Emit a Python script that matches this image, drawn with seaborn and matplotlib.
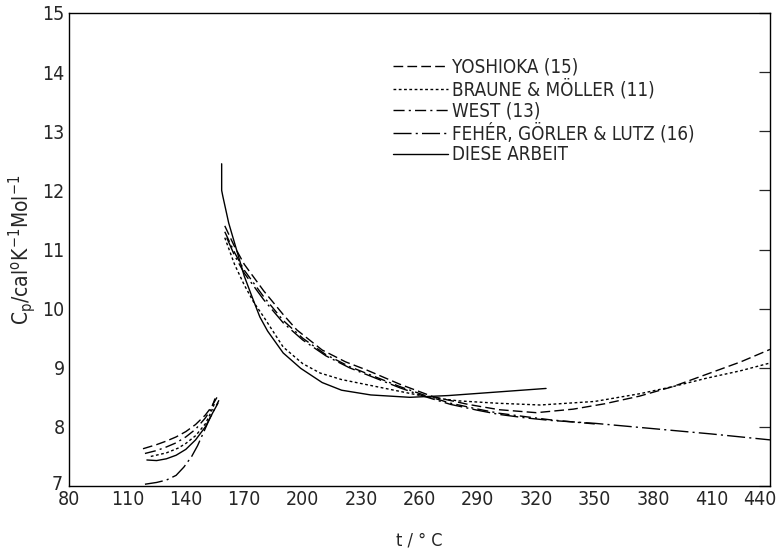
import pandas as pd
import matplotlib.pyplot as plt
import seaborn as sns
from matplotlib.transforms import ScaledTranslation

# Werte (t in °C, Cp in cal/(K Mol))
quellen = ['YOSHIOKA (15)', 'BRAUNE & MÖLLER (11)', 'WEST (13)',
           'FEHÉR, GÖRLER & LUTZ (16)', 'DIESE ARBEIT']

# Zweig unterhalb des Umwandlungspunktes
yosh_t_lo = [118, 125, 130, 135, 140, 145, 150, 153, 156]
yosh_cp_lo = [7.63, 7.70, 7.76, 7.83, 7.92, 8.04, 8.20, 8.33, 8.50]
braune_t_lo = [122, 130, 136, 140, 145, 150, 153, 155]
braune_cp_lo = [7.50, 7.56, 7.64, 7.72, 7.85, 8.05, 8.25, 8.42]
west_t_lo = [119, 125, 130, 135, 140, 145, 150, 153, 155]
west_cp_lo = [7.55, 7.60, 7.66, 7.73, 7.83, 7.96, 8.15, 8.30, 8.48]
feher_t_lo = [119, 125, 130, 135, 139, 143, 146, 149, 152, 155, 157]
feher_cp_lo = [7.03, 7.06, 7.10, 7.18, 7.32, 7.50, 7.68, 7.90, 8.12, 8.32, 8.45]
diese_t_lo = [120, 125, 130, 135, 140, 145, 150, 154, 156.5]
diese_cp_lo = [7.44, 7.43, 7.46, 7.52, 7.62, 7.78, 8.00, 8.25, 8.40]

# Zweig oberhalb des Umwandlungspunktes
yosh_t_hi = [160, 165, 170, 180, 190, 197, 210, 222, 233, 250, 267, 285, 301,
             320, 339, 355, 373, 390, 410, 425, 440]
yosh_cp_hi = [11.4, 11.05, 10.75, 10.3, 9.9, 9.64, 9.3, 9.1, 8.96, 8.72, 8.51,
              8.38, 8.29, 8.24, 8.30, 8.39, 8.52, 8.68, 8.92, 9.1, 9.31]
braune_t_hi = [160, 165, 170, 175, 180, 190, 200, 209, 220, 235, 250, 265, 280,
               300, 322, 350, 373, 390, 407, 425, 440]
braune_cp_hi = [11.2, 10.75, 10.4, 10.1, 9.86, 9.35, 9.07, 8.91, 8.8, 8.7, 8.6,
                8.5, 8.44, 8.4, 8.37, 8.43, 8.56, 8.68, 8.82, 8.95, 9.08]
west_t_hi = [160, 165, 170, 180, 190, 200, 212, 224, 237, 250, 263, 276, 290,
             301, 315, 327, 340, 350]
west_cp_hi = [11.3, 10.95, 10.65, 10.2, 9.8, 9.5, 9.22, 9.02, 8.85, 8.68, 8.53,
              8.40, 8.30, 8.23, 8.17, 8.12, 8.08, 8.05]
feher_t_hi = [161, 165, 170, 180, 190, 200, 212, 224, 237, 250, 263, 276, 290,
              301, 315, 327, 350, 380, 410, 440]
feher_cp_hi = [11.2, 10.9, 10.6, 10.15, 9.76, 9.47, 9.2, 9.0, 8.83, 8.66, 8.51,
               8.38, 8.28, 8.21, 8.15, 8.11, 8.06, 7.97, 7.88, 7.78]
diese_t_hi = [158.4, 158.4, 159, 162, 166, 170, 174, 178, 182, 190, 199, 210,
              220, 235, 255, 275, 300, 325]
diese_cp_hi = [12.45, 12.0, 11.9, 11.45, 11.0, 10.55, 10.2, 9.86, 9.62, 9.25,
               8.99, 8.75, 8.62, 8.54, 8.5, 8.53, 8.59, 8.65]

x_ticks = [80, 110, 140, 170, 200, 230, 260, 290, 320, 350, 380, 410, 440]
y_ticks = [7, 8, 9, 10, 11, 12, 13, 14, 15]

zweige = {
    quellen[0]: [(yosh_t_lo, yosh_cp_lo), (yosh_t_hi, yosh_cp_hi)],
    quellen[1]: [(braune_t_lo, braune_cp_lo), (braune_t_hi, braune_cp_hi)],
    quellen[2]: [(west_t_lo, west_cp_lo), (west_t_hi, west_cp_hi)],
    quellen[3]: [(feher_t_lo, feher_cp_lo), (feher_t_hi, feher_cp_hi)],
    quellen[4]: [(diese_t_lo, diese_cp_lo), (diese_t_hi, diese_cp_hi)],
}

rows = []
for q, segs in zweige.items():
    for i, (t, cp) in enumerate(segs):
        for k, (a, b) in enumerate(zip(t, cp)):
            rows.append({'t': a, 'cp': b, 'quelle': q, 'zweig': i, 'n': k})
df = pd.DataFrame(rows)

linien = {
    quellen[0]: (0, (7, 3)),
    quellen[1]: (0, (2, 1.8)),
    quellen[2]: (0, (8, 3, 1.5, 3)),
    quellen[3]: (0, (13, 3, 1.5, 3)),
    quellen[4]: '-',
}

sns.set_style('white')
plt.rcParams['font.family'] = ['DejaVu Sans']
plt.rcParams['font.stretch'] = 'condensed'

fig = plt.figure(figsize=(7.77, 5.54), dpi=100)
ax = fig.add_axes([69 / 777, 1 - 486 / 554, 701 / 777, 473 / 554])

for q in quellen:
    for i in [0, 1]:
        d = df[(df['quelle'] == q) & (df['zweig'] == i)].sort_values('n')
        sns.lineplot(data=d, x='t', y='cp', ax=ax, color='k', lw=1.0,
                     linestyle=linien[q], estimator=None, sort=False,
                     label=q if i == 1 else None)

ax.set_xlim(80, 440)
ax.set_ylim(7, 15)
ax.set_xticks(x_ticks)
ax.set_yticks(y_ticks)
ax.tick_params(axis='both', direction='in', length=8, width=0.9,
               labelsize=14, pad=3, right=True)
for s in ax.spines.values():
    s.set_color('k')
    s.set_linewidth(1.0)

# letzte x-Beschriftung leicht nach links, "7" leicht nach oben
lab = ax.get_xticklabels()[-1]
lab.set_transform(lab.get_transform()
                  + ScaledTranslation(-10 / 100, 0, fig.dpi_scale_trans))
lab7 = ax.get_yticklabels()[0]
lab7.set_transform(lab7.get_transform()
                   + ScaledTranslation(-2 / 100, 4 / 100, fig.dpi_scale_trans))

ax.set_xlabel('t / ° C', fontsize=13, labelpad=16)
ax.set_ylabel(r'C$_\mathregular{p}$/cal$^\mathregular{o}$K$^\mathregular{-1}$Mol$^\mathregular{-1}$',
              fontsize=15, labelpad=3)

ax.legend(loc='upper left', bbox_to_anchor=(385 / 777, 1 - 50 / 554),
          bbox_transform=fig.transFigure, frameon=False, fontsize=13.5,
          handlelength=2.95, handletextpad=0.22, labelspacing=0.12,
          borderaxespad=0)

fig.savefig('out.png', dpi=100)
